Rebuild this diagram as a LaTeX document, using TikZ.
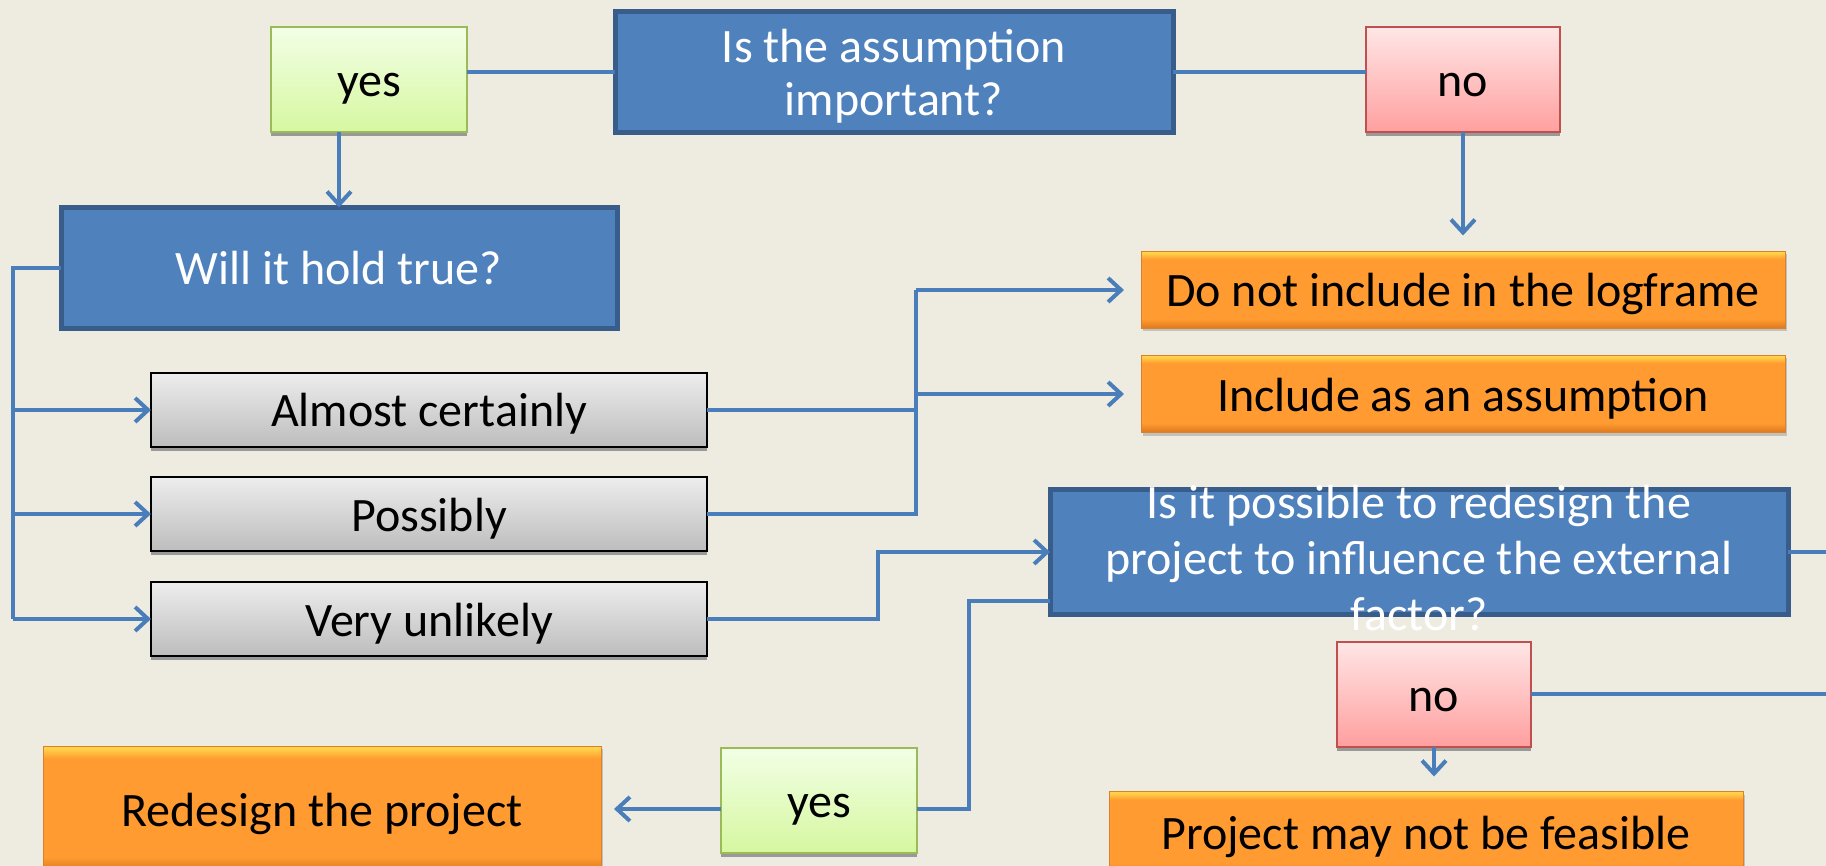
\documentclass[tikz,border=0pt]{standalone}
\usepackage{fontspec}
\setmainfont{Carlito}
\usetikzlibrary{positioning,shadows,arrows.meta}
\definecolor{paper}{HTML}{EEECE1}
\definecolor{qfill}{HTML}{4F81BD}
\definecolor{qline}{HTML}{385D8A}
\definecolor{wire}{HTML}{4A7EBB}
\definecolor{yestop}{HTML}{F2FFE6}
\definecolor{yesbot}{HTML}{D6F7A0}
\definecolor{yesline}{HTML}{9BBB59}
\definecolor{notop}{HTML}{FFE6E6}
\definecolor{nobot}{HTML}{FF9F9F}
\definecolor{noline}{HTML}{C0504D}
\definecolor{greytop}{HTML}{EDEDED}
\definecolor{greybot}{HTML}{BDBDBD}
\definecolor{ortop}{HTML}{FFD24A}
\definecolor{ormid}{HTML}{FF9B30}
\definecolor{orbot}{HTML}{DC781C}
\definecolor{orline}{HTML}{D9822B}
\pgfdeclareverticalshading{orbar}{100bp}{color(0bp)=(orbot); color(25bp)=(orbot); color(31bp)=(ormid); color(70bp)=(ormid); color(74bp)=(ortop); color(100bp)=(ortop)}

\begin{document}
\begin{tikzpicture}[x=1pt, y=-1pt,
						every node/.style={inner sep=0pt, outer sep=0pt, text height=42pt, text depth=8pt, font=\fontsize{48}{56}\selectfont},
						query/.style={rectangle, fill=qfill, draw=qline, line width=5pt, text=white, align=center},
						yesbox/.style={rectangle, top color=yestop, bottom color=yesbot, draw=yesline, line width=2pt, minimum width=196pt, minimum height=105pt, drop shadow={shadow xshift=0pt, shadow yshift=-4pt, fill=black!40, opacity=1}},
						nobox/.style={rectangle, top color=notop, bottom color=nobot, draw=noline, line width=2pt, minimum width=194pt, minimum height=105pt, drop shadow={shadow xshift=0pt, shadow yshift=-4pt, fill=black!40, opacity=1}},
						choice/.style={rectangle, top color=greytop, bottom color=greybot, draw=black, line width=2pt, minimum width=556pt, minimum height=74pt, drop shadow={shadow xshift=0pt, shadow yshift=-4pt, fill=black!40, opacity=1}},
						outcome/.style={rectangle, shading=orbar, draw=orline, line width=1pt, minimum width=644pt, minimum height=77pt, drop shadow={shadow xshift=2pt, shadow yshift=-3pt, fill=black!35, opacity=0.6}}
					]
					\useasboundingbox (0,0) rectangle (1826,866);
					\clip (0,0) rectangle (1826,866);
					\fill[paper] (0,0) rectangle (1826,866);
					\node[query, minimum width=558pt, minimum height=121pt, text height=97pt, text depth=9pt, font=\fontsize{48}{53}\selectfont] (assump) at (894,72) {Is the assumption\\important?};
					\node[yesbox] (yes1) [left=148pt of assump, yshift=-8pt] {yes};
					\node[nobox] (no1) [right=193pt of assump, yshift=-8pt] {no};
					\node[query, minimum width=556pt, minimum height=121pt] (will) at (339,268) {Will it hold true?};
					\node[choice] (almost) at (429,410) {Almost certainly};
					\node[choice] (possibly) [below=30pt of almost] {Possibly};
					\node[choice] (unlikely) [below=31pt of possibly] {Very unlikely};
					\node[outcome] (dontinc) at (1463,290) {Do not include in the logframe};
					\node[outcome] (include) [below=27pt of dontinc] {Include as an assumption};
					\node[query, minimum width=738pt, minimum height=125pt, text height=60pt, text depth=24pt] (redesignq) at (1419,552) {\begin{tabular}{@{}c@{}}Is it possible to redesign the\\project to influence the external\\factor?\end{tabular}};
					\node[nobox] (no2) [below=27pt of redesignq, xshift=15pt] {no};
					\node[outcome, minimum width=634pt, minimum height=82pt] (nofeasible) [below=45pt of no2, xshift=-8pt] {Project may not be feasible};
					\node[yesbox] (yes2) at (819,800) {yes};
					\node[outcome, minimum width=558pt, minimum height=126pt] (redesign) [left=120pt of yes2, yshift=-9pt] {Redesign the project};
					\coordinate (spine) at ([xshift=-48pt]will.west);
					\coordinate (fork) at ([xshift=209pt]almost.east);
					\coordinate (drop) at ([xshift=52pt]yes2.east);
					\coordinate (rim) at (1826,0);
					\begin{scope}[draw=wire, line width=4pt, >={Straight Barb[length=13pt,width=24pt]}]
					\draw (assump.west) -- (assump.west -| yes1.east);
					\draw (assump.east) -- (assump.east -| no1.west);
					\draw[->] (will.north |- yes1.south) -- (will.north);
					\draw[->, shorten >=16pt] (no1.south) -- (no1.south |- dontinc.north);
					\draw (will.west) -- (spine) -- (spine |- unlikely.west);
					\foreach \opt in {almost,possibly,unlikely}
						\draw[->] (spine |- \opt.west) -- (\opt.west);
					\draw (almost.east) -- (fork);
					\draw (possibly.east) -| (fork |- dontinc.west);
					\draw[->, shorten >=17pt] (fork |- dontinc.west) -- (dontinc.west);
					\draw[->, shorten >=17pt] (fork |- include.west) -- (include.west);
					\draw[->] (unlikely.east) -| ([xshift=-172pt]redesignq.west) -- (redesignq.west);
					\draw (redesignq.east) -- (redesignq.east -| rim);
					\draw (no2.east) -- (no2.east -| rim);
					\draw[->, shorten >=15pt] (no2.south) -- (no2.south |- nofeasible.north);
					\draw ([yshift=-49pt]redesignq.west) -| (drop |- redesign.east) -- (yes2.east |- redesign.east);
					\draw[->, shorten >=13pt] (yes2.west |- redesign.east) -- (redesign.east);
					\end{scope}
					\end{tikzpicture}
\end{document}
